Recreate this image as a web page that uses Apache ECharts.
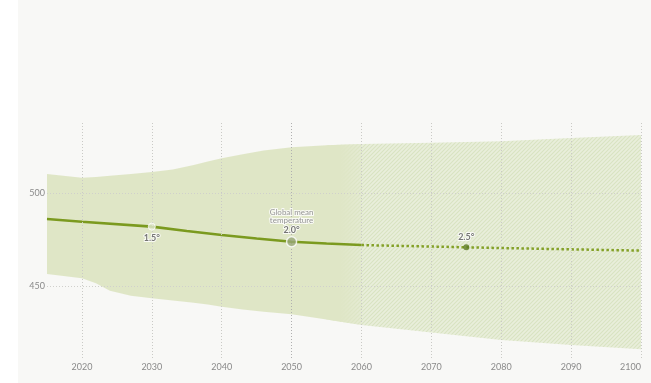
<!DOCTYPE html>
<html>
<head>
<meta charset="utf-8">
<script src="https://cdn.jsdelivr.net/npm/echarts@6/dist/echarts.min.js"></script>
<style>
  html, body { margin: 0; padding: 0; background: #ffffff; }
  #chart { position: absolute; left: 18px; top: 0; width: 633px; height: 383px; background: #f8f8f6; }
</style>
</head>
<body>
<div id="chart"></div>
<script>
// Likely range of outcomes (upper / lower bound) and central projection
const bandYears  = [2015, 2020, 2022, 2024, 2027, 2030, 2033, 2036, 2038, 2040, 2043, 2046, 2050, 2055, 2060, 2070, 2080, 2090, 2100];
const bandUpper  = [510.2, 508.2, 508.6, 509.3, 510.2, 511.2, 512.6, 515.0, 516.9, 518.6, 520.8, 522.8, 524.6, 525.7, 526.3, 527.0, 527.8, 529.5, 531.2];
const bandLower  = [456.5, 454.1, 451.5, 447.5, 444.8, 443.4, 442.2, 441.0, 440.0, 438.9, 437.3, 436.1, 434.8, 432.0, 429.0, 425.0, 421.0, 418.3, 416.0];

const centralYears  = [2015, 2020, 2030, 2035, 2040, 2045, 2050, 2055, 2060];
const centralValues = [486.0, 484.5, 481.9, 479.6, 477.4, 475.5, 473.8, 472.8, 472.0];
const outlookYears  = [2060, 2070, 2075, 2080, 2090, 2100];
const outlookValues = [472.0, 471.2, 470.8, 470.4, 469.7, 469.0];

const markerYears  = [2030, 2050, 2075];
const markerValues = [481.9, 473.8, 470.8];
const markerLabels = ['1.5°', '2.0°', '2.5°'];

const xTickYears  = [2020, 2030, 2040, 2050, 2060, 2070, 2080, 2090, 2100];
const yTickValues = [450, 500];
const measuredUntil = 2060;

// Diagonal hatch used for the longer-term part of the range
function hatchPattern() {
  const c = document.createElement('canvas');
  c.width = 4; c.height = 4;
  const g = c.getContext('2d');
  g.fillStyle = '#e9eedb';
  g.fillRect(0, 0, 4, 4);
  g.strokeStyle = '#d9e2c1';
  g.lineWidth = 1.1;
  g.beginPath();
  g.moveTo(-1, 5); g.lineTo(5, -1);
  g.moveTo(-1, 1); g.lineTo(1, -1);
  g.moveTo(3, 5); g.lineTo(5, 3);
  g.stroke();
  return c;
}

function bandPolygon(fromYear, toYear, fill) {
  return function (params, api) {
    const top = [], bottom = [];
    bandYears.forEach(function (yr, i) {
      if (yr < fromYear || yr > toYear) return;
      top.push(api.coord([yr, bandUpper[i]]));
      bottom.unshift(api.coord([yr, bandLower[i]]));
    });
    return { type: 'polygon', shape: { points: top.concat(bottom) }, style: { fill: fill } };
  };
}

const chart = echarts.init(document.getElementById('chart'), null, { renderer: 'canvas' });

const solidFill = new echarts.graphic.LinearGradient(0, 0, 1, 0, [
  { offset: 0, color: '#dfe6c6' },
  { offset: 0.93, color: '#dfe6c6' },
  { offset: 1, color: 'rgba(223,230,198,0.35)' }
]);

const markerStyles = [
  { size: 7,  color: '#e4ead3', border: '#ffffff', bw: 1, pos: 'bottom' },
  { size: 10, color: '#98a878', border: '#ffffff', bw: 1.5, pos: 'top' },
  { size: 6,  color: '#5b7a22', border: '#5b7a22', bw: 0, pos: 'top' }
];

const option = {
  animation: false,
  textStyle: { fontFamily: 'Lato' },
  grid: { left: 29, right: 10, top: 123, bottom: 25 },
  xAxis: {
    type: 'value', min: 2015, max: 2100,
    axisLine: { show: false }, axisTick: { show: false }, splitLine: { show: false },
    axisLabel: {
      customValues: xTickYears, color: '#8a8a8a', fontSize: 9, margin: 5,
      fontFamily: 'Lato', alignMaxLabel: 'right',
      formatter: function (v) { return String(v); }
    }
  },
  yAxis: {
    type: 'value', min: 411.3, max: 537.6,
    axisLine: { show: false }, axisTick: { show: false }, splitLine: { show: false },
    axisLabel: { customValues: yTickValues, color: '#8a8a8a', fontSize: 9, margin: 2, fontFamily: 'Lato' }
  },
  series: [
    {
      type: 'custom', z: 1, silent: true, data: [[2080, 470]],
      renderItem: bandPolygon(2055, 2100, { image: hatchPattern(), repeat: 'repeat' })
    },
    {
      type: 'custom', z: 2, silent: true, data: [[2040, 470]],
      renderItem: bandPolygon(2015, measuredUntil, solidFill)
    },
    {
      type: 'line', z: 3, data: [], silent: true,
      markLine: {
        silent: true, symbol: 'none', label: { show: false },
        data: xTickYears.map(function (yr) {
          return { xAxis: yr, lineStyle: { color: yr === 2050 ? '#b0b0b0' : '#cacac6', type: [1, 2], width: 1 } };
        }).concat(yTickValues.map(function (v) {
          return { yAxis: v, lineStyle: { color: '#d0d0cc', type: [1, 2], width: 1 } };
        }))
      }
    },
    {
      type: 'line', z: 4, showSymbol: false, silent: true,
      data: centralYears.map(function (yr, i) { return [yr, centralValues[i]]; }),
      lineStyle: { color: '#7b9a1f', width: 2.6 }
    },
    {
      type: 'line', z: 4, showSymbol: false, silent: true,
      data: outlookYears.map(function (yr, i) { return [yr, outlookValues[i]]; }),
      lineStyle: { color: '#83a026', width: 2.5, type: [2.5, 2.5] }
    },
    {
      type: 'scatter', z: 5, silent: true,
      data: markerYears.map(function (yr, i) {
        const s = markerStyles[i];
        const item = {
          value: [yr, markerValues[i]],
          symbolSize: s.size,
          itemStyle: { color: s.color, borderColor: s.border, borderWidth: s.bw },
          label: {
            show: true, position: s.pos, distance: 3,
            formatter: markerLabels[i],
            color: '#555555', fontSize: 9, fontWeight: 'bold',
            textBorderColor: '#ffffff', textBorderWidth: 2
          }
        };
        if (i === 1) {
          item.label.distance = 0;
          item.label.formatter = '{a|Global mean}\n{a|temperature}\n{b|' + markerLabels[i] + '}';
          item.label.rich = {
            a: { color: '#7a7a7a', fontSize: 8, lineHeight: 8.5, fontWeight: 'normal',
                 textBorderColor: '#ffffff', textBorderWidth: 2, fontFamily: 'Lato' },
            b: { color: '#555555', fontSize: 9, lineHeight: 11, fontWeight: 'bold',
                 textBorderColor: '#ffffff', textBorderWidth: 2, fontFamily: 'Lato' }
          };
        }
        return item;
      })
    }
  ]
};

chart.setOption(option);
</script>
</body>
</html>
